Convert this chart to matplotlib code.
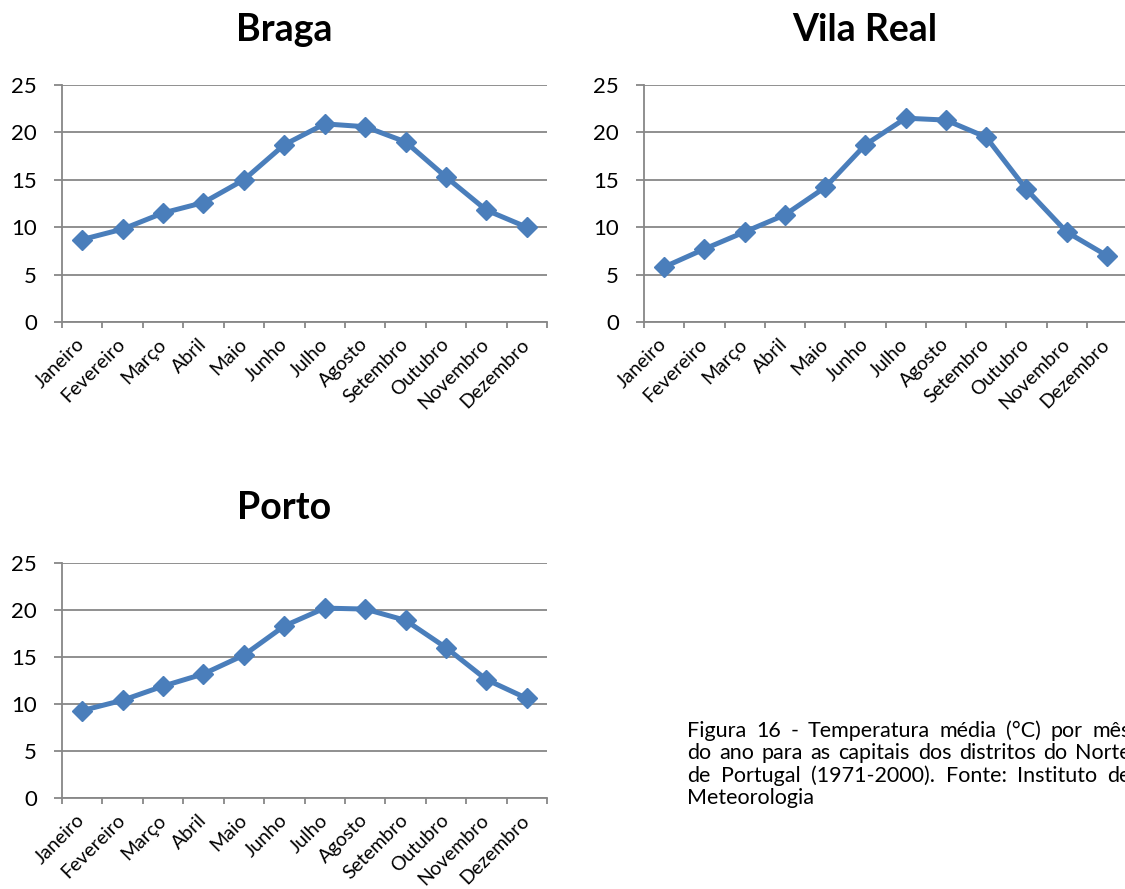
import matplotlib
matplotlib.use("Agg")
import matplotlib.pyplot as plt
import numpy as np

months = ["Janeiro", "Fevereiro", "Março", "Abril", "Maio", "Junho", "Julho",
          "Agosto", "Setembro", "Outubro", "Novembro", "Dezembro"]
braga = [8.7, 9.8, 11.5, 12.6, 15.0, 18.7, 20.9, 20.6, 19.0, 15.3, 11.8, 10.0]
vila_real = [5.8, 7.7, 9.5, 11.3, 14.2, 18.7, 21.5, 21.3, 19.5, 14.0, 9.5, 7.0]
porto = [9.3, 10.4, 11.9, 13.2, 15.2, 18.3, 20.2, 20.1, 18.9, 16.0, 12.6, 10.6]
yticks = [0, 5, 10, 15, 20, 25]
caption_lines = [
    "Figura 16 - Temperatura média (°C) por mês",
    "do ano para as capitais dos distritos do Norte",
    "de Portugal (1971-2000). Fonte: Instituto de",
    "Meteorologia",
]

plt.rcParams['font.family'] = ['Lato', 'DejaVu Sans']

W, H = 1125, 889
fig = plt.figure(figsize=(W / 100, H / 100), dpi=100)

LINE = '#4A7EBB'
GRID = '#878787'


def make_panel(rect, title, values):
    ax = fig.add_axes(rect)
    x = np.arange(len(months)) + 0.5
    ax.plot(x, values, color=LINE, lw=3.6, marker='D', ms=10.5, mfc=LINE,
            mec=LINE, clip_on=False, zorder=3)
    ax.set_xlim(0, len(months))
    ax.set_ylim(0, 25)
    ax.set_yticks(yticks)
    ax.set_yticklabels([str(v) for v in yticks], fontsize=16)
    ax.yaxis.grid(True, color=GRID, lw=1.3)
    ax.set_axisbelow(True)
    ax.set_xticks(np.arange(len(months) + 1))
    ax.set_xticklabels([])
    ax.set_xticks(x, minor=True)
    ax.set_xticklabels(months, minor=True, rotation=45, ha='right', va='center',
                       rotation_mode='anchor', fontsize=14)
    ax.tick_params(axis='x', which='minor', length=0, pad=14)
    ax.tick_params(axis='x', which='major', length=4.5, color=GRID, width=1.3)
    ax.tick_params(axis='y', length=6, color=GRID, width=1.3, pad=12)
    for s in ['top', 'right']:
        ax.spines[s].set_visible(False)
    for s in ['left', 'bottom']:
        ax.spines[s].set_color(GRID)
        ax.spines[s].set_linewidth(1.3)
    ax.set_title(title, fontsize=27, fontweight='bold', pad=32, x=0.458)
    return ax


def rect(x0, y0, x1, y1):
    return [x0 / W, 1 - y1 / H, (x1 - x0) / W, (y1 - y0) / H]


make_panel(rect(62, 85, 547, 322), "Braga", braga)
make_panel(rect(644, 85, 1127, 322), "Vila Real", vila_real)
make_panel(rect(62, 563, 547, 798), "Porto", porto)

# justified caption (right part runs past the figure edge, as in the reference)
x_left, x_right = 687, 1131
base0, dy = 737, 22.3
fs = 15.5
fig.canvas.draw()
r = fig.canvas.get_renderer()
for i, line in enumerate(caption_lines):
    y = 1 - (base0 + i * dy) / H
    words = line.split(' ')
    if i == len(caption_lines) - 1:
        fig.text(x_left / W, y, line, fontsize=fs, va='baseline', ha='left')
        continue
    widths = []
    for w in words:
        t = fig.text(0, 0, w, fontsize=fs)
        widths.append(t.get_window_extent(renderer=r).width)
        t.remove()
    gap = (x_right - x_left - sum(widths)) / (len(words) - 1)
    xp = x_left
    for w, wd in zip(words, widths):
        fig.text(xp / W, y, w, fontsize=fs, va='baseline', ha='left')
        xp += wd + gap

fig.savefig("out.png", dpi=100)
